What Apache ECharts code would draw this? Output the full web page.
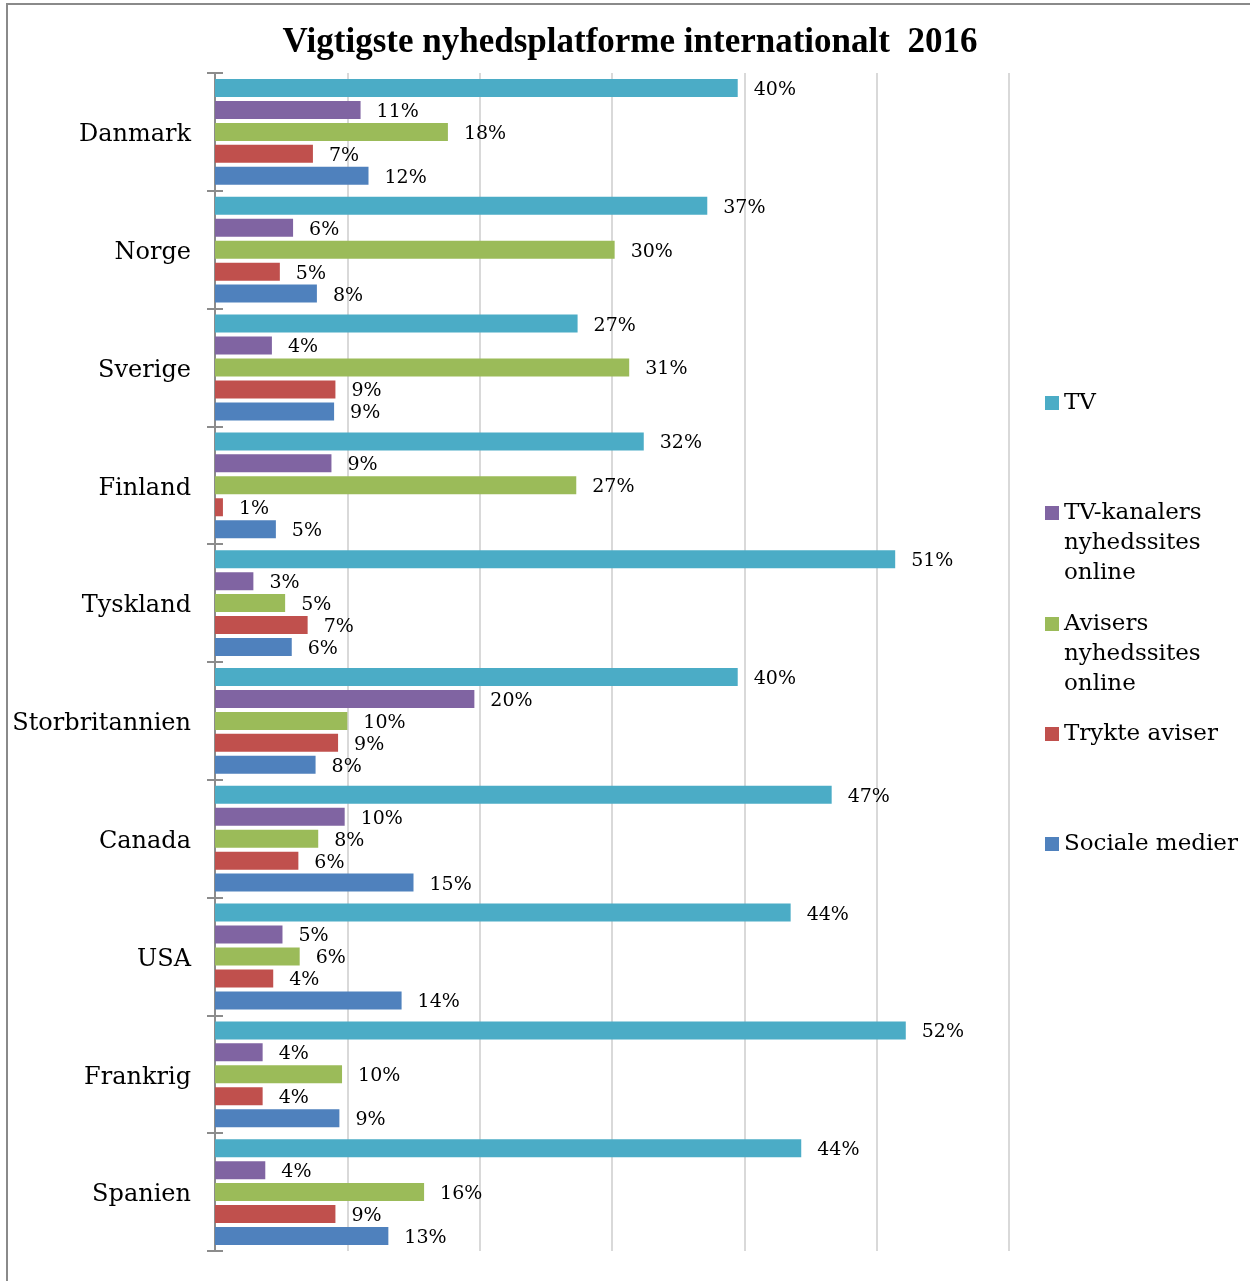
<!DOCTYPE html>
<html>
<head>
<meta charset="utf-8">
<script src="https://cdn.jsdelivr.net/npm/echarts@6/dist/echarts.min.js"></script>
<style>html,body{margin:0;padding:0;background:#fff;}#c{width:1250px;height:1281px;}</style>
</head>
<body>
<div id="c"></div>
<script>
const categories = ['Danmark','Norge','Sverige','Finland','Tyskland','Storbritannien','Canada','USA','Frankrig','Spanien'];
const seriesNames = ['TV','TV-kanalers\nnyhedssites\nonline','Avisers\nnyhedssites\nonline','Trykte aviser','Sociale medier'];
const tv       = [39.5, 37.2, 27.4, 32.4, 51.4, 39.5, 46.6, 43.5, 52.2, 44.3];
const tvSites  = [11.0,  5.9,  4.3,  8.8,  2.9, 19.6,  9.8,  5.1,  3.6,  3.8];
const paperSites=[17.6, 30.2, 31.3, 27.3,  5.3, 10.0,  7.8,  6.4,  9.6, 15.8];
const printed  = [ 7.4,  4.9,  9.1,  0.6,  7.0,  9.3,  6.3,  4.4,  3.6,  9.1];
const social   = [11.6,  7.7,  9.0,  4.6,  5.8,  7.6, 15.0, 14.1,  9.4, 13.1];
const colors = ['#4BACC6','#8064A2','#9BBB59','#C0504D','#4F81BD'];
const xTicks = [0,10,20,30,40,50,60];

const values = [tv, tvSites, paperSites, printed, social];
const SERIF = 'DejaVu Serif';
const chart = echarts.init(document.getElementById('c'));

const legendCenters = [403, 513, 624, 734, 844];
const legends = seriesNames.map((n, i) => {
  const lines = n.split('\n').length;
  const lh = 30;
  const total = 2 * lines - 1; // leading blank lines so first line sits beside icon
  const boxH = total * lh;
  return {
    data: [n],
    orient: 'vertical',
    left: 1045,
    top: legendCenters[i] - boxH / 2,
    padding: 0,
    itemWidth: 14,
    itemHeight: 14,
    icon: 'rect',
    selectedMode: false,
    formatter: name => '\n'.repeat(lines - 1) + name,
    textStyle: { fontFamily: SERIF, fontSize: 23, color: '#000', lineHeight: lh }
  };
});

chart.setOption({
  animation: false,
  color: colors,
  title: {
    text: 'Vigtigste nyhedsplatforme internationalt  2016',
    left: 625, top: 20, textAlign: 'center',
    textStyle: { fontFamily: 'Liberation Serif', fontWeight: 'bold', fontSize: 35, color: '#000' }
  },
  legend: legends,
  graphic: [{
    type: 'rect', shape: { x: 7, y: 4, width: 1270, height: 1300 },
    style: { fill: 'none', stroke: '#8a8a8a', lineWidth: 2 }, silent: true, z: -1
  }],
  grid: { left: 215, right: 241, top: 73, bottom: 30 },
  xAxis: {
    type: 'value', min: xTicks[0], max: xTicks[xTicks.length - 1], interval: 10,
    axisLabel: { show: false }, axisLine: { show: false }, axisTick: { show: false },
    splitLine: { show: true, lineStyle: { color: '#d9d9d9', width: 2 } }
  },
  yAxis: [{
    type: 'category', data: categories, inverse: true,
    axisLine: { show: true, lineStyle: { color: '#8c8c8c', width: 2 } },
    axisTick: { show: true, length: 8, lineStyle: { color: '#8c8c8c', width: 2 } },
    axisLabel: { fontFamily: SERIF, fontSize: 24, color: '#000', margin: 24, verticalAlign: 'top', lineHeight: 6 }
  }, {
    type: 'category', data: categories, inverse: true, position: 'left', offset: 0,
    axisLine: { show: false },
    axisTick: { show: true, inside: true, length: 8, lineStyle: { color: '#8c8c8c', width: 2 } },
    axisLabel: { show: false }
  }],
  series: seriesNames.map((n, i) => ({
    name: n, type: 'bar', data: values[i], yAxisIndex: 0,
    barWidth: 18, barGap: '22%',
    itemStyle: { color: colors[i] },
    label: {
      show: true, position: 'right', distance: 16, offset: [0, 2],
      fontFamily: SERIF, fontSize: 19, color: '#000',
      formatter: p => Math.round(p.value) + '%'
    }
  }))
});
</script>
</body>
</html>
